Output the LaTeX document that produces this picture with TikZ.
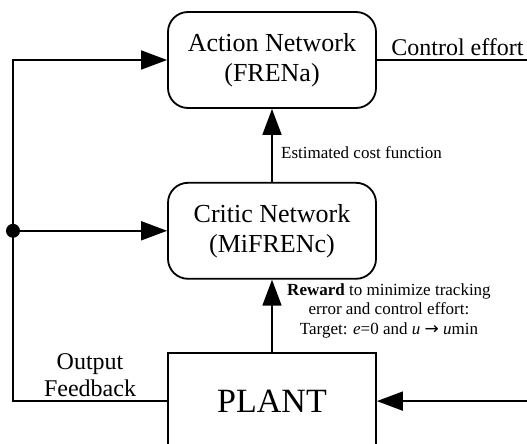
\documentclass[tikz,border=0pt]{standalone}
\usepackage{fontspec}
\setmainfont{Liberation Serif}
\newfontfamily\arrowfont{DejaVu Sans}
\usetikzlibrary{positioning}
\usetikzlibrary{arrows.meta}

\begin{document}
\begin{tikzpicture}[x=1pt,y=-1pt]
\tikzset{network/.style={rectangle,minimum width=208pt,minimum height=96pt, rounded corners=20pt, draw, line width=1.8pt, align=center, font=\fontsize{26}{30}\selectfont}}
\tikzset{plantbox/.style={rectangle,minimum width=208pt,minimum height=97pt, draw, line width=1.8pt, font=\fontsize{34}{40}\selectfont}}
\tikzset{wire/.style={line width=1.8pt}}
\tikzset{flow/.style={wire, -{Triangle[length=26pt,width=19pt]}}}
\tikzset{junction/.style={circle, fill, inner sep=0pt, minimum size=14pt}}
\tikzset{lbl/.style={font=\fontsize{24}{27}\selectfont, align=center, inner sep=3pt}}
\tikzset{note/.style={font=\fontsize{17}{19.5}\selectfont, align=center}}
\clip (0,0) rectangle (527,444);
\node[network] (action) at (272,60) {Action Network\\(FRENa)};
\node[network, below = 73pt of action] (critic) {Critic Network\\(MiFRENc)};
\node[plantbox, below = 72pt of critic] (plant) {PLANT};
\coordinate (leftline) at (13,0);
\coordinate (rightline) at (532,0);
\coordinate (fbcorner) at (plant.west -| leftline);
\coordinate (topcorner) at (action.west -| leftline);
\coordinate (effortend) at (action.east -| rightline);
\coordinate (inputend) at (plant.east -| rightline);
\node[junction] (split) at (critic.west -| leftline) {};
% feedback from the plant
\draw[flow] (plant.west) -- node[lbl, above]{Output\\Feedback} (fbcorner) -- (topcorner) -- (action.west);
\draw[flow] (split) -- (critic.west);
% between the networks
\draw[flow] (critic) -- node[note, right, pos=0.4, xshift=5pt]{Estimated cost function} (action);
\draw[flow] (plant) -- node[note, right, pos=0.57, xshift=11pt]{\textbf{Reward} to minimize tracking\\error and control effort:\\Target: \textit{e}=0 and \textit{u} {\arrowfont →} \textit{u}min} (critic);
% control effort to the plant
\draw[wire] (action.east) -- node[lbl, above, xshift=3pt]{Control effort} (effortend);
\draw[flow] (inputend) -- (plant.east);
\end{tikzpicture}
\end{document}
